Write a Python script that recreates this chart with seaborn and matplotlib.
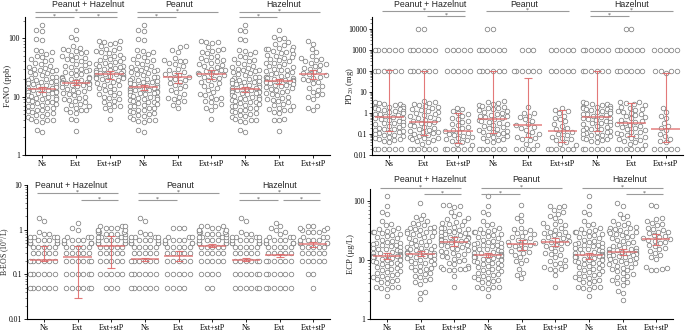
import numpy as np
import pandas as pd
import matplotlib
matplotlib.use("Agg")
import matplotlib.pyplot as plt
import matplotlib.transforms as mtransforms
from matplotlib.ticker import LogLocator, NullFormatter
import seaborn as sns
import warnings
warnings.filterwarnings("ignore")

sns.set_style("ticks")
plt.rcParams["font.family"] = ["Liberation Serif", "DejaVu Serif"]
plt.rcParams["mathtext.fontset"] = "stix"

# ---------------- categories ----------------
tick_names = ["Ns", "Ext", "Ext+stP"] * 3
group_keys = ["PH_Ns", "PH_Ext", "PH_stP", "PN_Ns", "PN_Ext", "PN_stP", "HZ_Ns", "HZ_Ext", "HZ_stP"]
allergens = ["Peanut + Hazelnut", "Peanut", "Hazelnut"]

# ---------------- FeNO (ppb) ----------------
feno_ns = [170, 140, 135, 97, 94, 62, 60, 57, 54, 50, 47, 44, 42, 40, 38, 36, 34, 32, 31, 30, 29, 28, 27, 26,
           25, 24, 23, 22, 21.5, 21, 20, 19.5, 19, 18.5, 18, 17.5, 17, 16.5, 16, 15.5, 15, 14.6, 14.2, 13.8,
           13.5, 13.2, 13, 12.8, 12.5, 12.2, 12, 11.7, 11.4, 11, 10.7, 10.4, 10, 9.8, 9.5, 9.2, 9, 8.7, 8.4,
           8.2, 8, 7.7, 7.4, 7.2, 7, 6.8, 6.5, 6.3, 6, 5.8, 5.6, 5.4, 5.2, 5, 4.8, 4.6, 4.4, 4.2, 4, 3.9, 3.8,
           3.7, 2.7, 2.5]
feno_ph_ext = [140, 105, 95, 72, 68, 65, 62, 60, 57, 55, 52, 50, 48, 46, 44, 42, 40, 38, 36, 35, 33, 32, 30,
               29, 28, 27, 26, 25, 24, 23, 22, 21.5, 21, 20.5, 20, 19.5, 19, 18.5, 18, 17.5, 17.2, 17, 16.8,
               16.5, 16, 15.5, 15, 14.5, 14, 13.5, 13, 12.5, 12, 11.5, 11, 10.5, 10, 9.6, 9.2, 8.8, 8.4, 8,
               7.6, 7.2, 6.8, 6.5, 6.2, 6, 5.8, 5.5, 5.2, 4.2, 3.9, 2.6]
feno_ph_stp = [90, 88, 86, 84, 80, 72, 68, 65, 62, 60, 57, 55, 52, 50, 48, 46, 44, 42, 40, 39, 38, 36, 35, 34,
               33, 32, 31, 30, 29, 28, 27, 26, 25.5, 25, 24.5, 24, 23.5, 23, 22.5, 22, 21.5, 21, 20.5, 20,
               19.5, 19, 18, 17, 16, 15.5, 15, 14, 13.5, 13, 12, 11.5, 11, 10.5, 10, 9.5, 9, 8.5, 8, 7.5, 7,
               6.8, 6.5, 6, 4.1]
feno_pn_ext = [73, 70, 63, 58, 45, 42, 41, 40, 38, 36, 33, 30, 28, 26, 25, 24, 23, 22, 21, 20, 19, 18, 17, 16,
               15, 14, 13, 12, 11, 10, 9.5, 9, 8.5, 8, 7.2, 6.5]
feno_pn_stp = [88, 86, 85, 82, 70, 65, 62, 60, 57, 55, 50, 48, 45, 43, 42, 40, 38, 36, 35, 33, 32, 30, 29, 28,
               27, 26, 25, 24.5, 24, 23, 22, 21, 20, 19, 18, 17, 16, 15, 14, 13, 12, 11, 10.5, 10, 9.5, 9,
               8.5, 8, 7.5, 7, 6.5, 6, 4.1]
feno_hz_ext = [140, 105, 100, 95, 85, 80, 75, 70, 68, 66, 64, 62, 60, 58, 56, 54, 52, 50, 48, 46, 44, 42, 40,
               38, 37, 36, 34, 33, 32, 30, 29, 28, 27, 26, 25, 24, 23, 22.5, 22, 21.5, 21, 20.5, 20, 19.5, 19,
               18.7, 18.5, 18.2, 18, 17.5, 17, 16.5, 16, 15.5, 15, 14.5, 14, 13.5, 13, 12.5, 12, 11.5, 11,
               10.5, 10, 9.6, 9.2, 8.8, 8.4, 8, 7.6, 7.2, 6.8, 6.5, 6.2, 6, 5.8, 5.5, 5.2, 4.2, 4, 3.9, 2.6]
feno_hz_stp = [90, 80, 65, 58, 50, 45, 44, 42, 40, 38, 36, 35, 33, 31, 30, 28, 26, 25, 24, 23, 22, 21, 20, 19,
               18, 17, 15, 14, 13, 12, 11, 10.5, 10, 9, 7, 6.5, 6]
feno_median = [13.3, 17.2, 24.0, 14.4, 21.3, 24.0, 13.4, 18.6, 24.0]
feno_lo = [12.0, 15.5, 20.0, 13.0, 17.0, 20.0, 12.0, 16.5, 20.0]
feno_hi = [14.5, 19.0, 27.0, 15.5, 25.0, 28.0, 14.5, 20.0, 29.0]

# ---------------- PD20 (mg) ----------------
pd_ns = [1000] * 6 + [100] * 6 + [3.2, 3.0, 2.8, 2.6, 2.4, 2.2, 2.0, 1.9, 1.8, 1.7, 1.6, 1.5, 1.4, 1.3, 1.2, 1.1,
                                  1.0, 0.92, 0.85, 0.78, 0.72, 0.66, 0.6, 0.55, 0.5, 0.46, 0.42, 0.38, 0.35,
                                  0.32, 0.29, 0.26, 0.24, 0.22, 0.2, 0.18, 0.165, 0.15, 0.14, 0.13, 0.12, 0.11,
                                  0.1, 0.092, 0.085, 0.078, 0.072, 0.066, 0.06, 0.055, 0.05, 0.045, 0.04] + [0.02] * 6
pd_ph_ext = [10000] * 2 + [1000] * 6 + [100] * 6 + [3.8, 3.4, 3.0, 2.7, 2.4, 2.1, 1.9, 1.7, 1.5, 1.35, 1.2, 1.1,
                                                    1.0, 0.9, 0.8, 0.72, 0.65, 0.58, 0.52, 0.46, 0.42, 0.38,
                                                    0.34, 0.3, 0.27, 0.24, 0.22, 0.2, 0.18, 0.16, 0.145, 0.13,
                                                    0.12, 0.11, 0.1, 0.09, 0.082, 0.075, 0.068, 0.062, 0.056,
                                                    0.05, 0.045, 0.04, 0.035] + [0.02] * 6
pd_ph_stp = [1000] * 5 + [100] * 5 + [1.8, 1.5, 1.2, 1.0, 0.85, 0.7, 0.6, 0.5, 0.42, 0.36, 0.3, 0.26, 0.22, 0.19,
                                      0.16, 0.14, 0.12, 0.11, 0.1, 0.09, 0.08, 0.07, 0.062, 0.055, 0.05, 0.045,
                                      0.04, 0.035, 0.03] + [0.02] * 6
pd_pn_ns = [10000] * 2 + [1000] * 6 + [100] * 6 + [3.8, 3.3, 3.0, 2.7, 2.4, 2.2, 2.0, 1.8, 1.65, 1.5, 1.35, 1.2,
                                                   1.1, 1.0, 0.9, 0.82, 0.75, 0.68, 0.62, 0.56, 0.5, 0.46, 0.42,
                                                   0.38, 0.34, 0.31, 0.28, 0.25, 0.22, 0.2, 0.18, 0.16, 0.145,
                                                   0.13, 0.12, 0.11, 0.1, 0.09, 0.08, 0.072, 0.065, 0.058,
                                                   0.052, 0.046, 0.04] + [0.02] * 6
pd_pn_ext = [1000] * 3 + [100] * 6 + [2.0, 1.0, 0.95, 0.75, 0.62, 0.5, 0.4, 0.3, 0.26, 0.22, 0.2, 0.16, 0.13, 0.1,
                                      0.09, 0.075, 0.065, 0.055, 0.05, 0.035, 0.03] + [0.02] * 4
pd_pn_stp = [1000] * 5 + [100] * 5 + [1.8, 1.4, 1.2, 1.0, 0.75, 0.6, 0.5, 0.4, 0.3, 0.25, 0.2, 0.17, 0.14, 0.12,
                                      0.1, 0.09, 0.075, 0.065, 0.055, 0.05, 0.042, 0.035, 0.03] + [0.02] * 6
pd_hz_ext = [10000] * 2 + [1000] * 6 + [100] * 6 + [3.5, 3.2, 2.9, 2.6, 2.3, 2.0, 1.8, 1.6, 1.45, 1.3, 1.15, 1.0,
                                                    0.9, 0.8, 0.7, 0.62, 0.55, 0.48, 0.42, 0.37, 0.33, 0.3,
                                                    0.27, 0.24, 0.21, 0.19, 0.17, 0.15, 0.13, 0.12, 0.11, 0.1,
                                                    0.09, 0.08, 0.072, 0.064, 0.057, 0.05, 0.045, 0.04, 0.035,
                                                    0.03] + [0.02] * 6
pd_hz_stp = [1000] * 5 + [100] * 4 + [80] + [1.8, 1.1, 0.7, 0.6, 0.35, 0.25, 0.2, 0.15, 0.1, 0.08, 0.06, 0.045,
                                             0.04] + [0.02] * 5
pd_median = [0.62, 0.36, 0.14, 0.52, 0.26, 0.14, 0.62, 0.32, 0.167]
pd_lo = [0.14, 0.09, 0.037, 0.107, 0.072, 0.04, 0.14, 0.08, 0.04]
pd_hi = [110, 105, 0.98, 105, 48, 1.35, 105, 2.9, 78]

# ---------------- B-EOS (10^9/L) ----------------
beos_ns = [0.05] * 6 + [0.1] * 6 + [0.2] * 6 + [0.3] * 5 + [0.4] * 5 + [0.5] * 5 + [0.6] * 5 + [0.7] * 4 + \
          [0.8] * 2 + [0.9] + [1.6, 1.8]
beos_ph_ext = [0.05] * 6 + [0.1] * 6 + [0.2] * 6 + [0.3] * 5 + [0.4] * 5 + [0.5] * 5 + [0.6] * 4 + [0.7] * 3 + \
              [1.0, 1.1, 1.4]
beos_ph_stp = [0.05] * 3 + [0.1] * 5 + [0.2] * 5 + [0.3] * 5 + [0.4] * 5 + [0.5] * 5 + [0.6] * 5 + [0.7] * 4 + \
              [0.8] * 4 + [0.9] * 3 + [1.0] * 3 + [1.1] * 3 + [1.2] * 3
beos_pn_ext = [0.05] * 4 + [0.1] * 5 + [0.2] * 5 + [0.3] * 5 + [0.4] * 5 + [0.5] * 4 + [0.6] * 4 + [0.7] * 3 + \
              [1.1] * 3
beos_pn_stp = [0.05] * 2 + [0.1] * 4 + [0.2] * 5 + [0.3] * 5 + [0.4] * 5 + [0.5] * 5 + [0.6] * 5 + [0.7] * 4 + \
              [0.8] * 4 + [0.9] * 3 + [1.0] * 3 + [1.1] * 2 + [1.2] * 3
beos_hz_ext = [0.05] * 6 + [0.1] * 6 + [0.2] * 6 + [0.3] * 5 + [0.4] * 5 + [0.5] * 5 + [0.6] * 4 + [0.7] * 3 + \
              [0.8, 0.9, 1.0, 1.1, 1.2, 1.4]
beos_hz_stp = [0.05] + [0.1] * 2 + [0.2] * 5 + [0.3] * 5 + [0.4] * 5 + [0.5] * 4 + [0.6] * 4 + [0.7] * 3 + \
              [0.9] * 3 + [1.0] * 2 + [1.1] * 2 + [1.2] * 2
beos_median = [0.21, 0.246, 0.44, 0.22, 0.263, 0.44, 0.21, 0.268, 0.47]
beos_lo = [0.2, 0.03, 0.142, 0.2, 0.2, 0.4, 0.2, 0.25, 0.4]
beos_hi = [0.42, 0.44, 0.73, 0.23, 0.34, 0.47, 0.23, 0.28, 0.52]

# ---------------- ECP (ug/L) ----------------
ecp_ns = [120, 80, 65, 60, 45, 40, 38, 35, 33, 32, 31, 30, 29, 28, 27, 26, 25, 24, 23, 22, 21, 20, 19.5, 19,
          18.5, 18, 17.5, 17, 16.5, 16, 15.5, 15, 14.5, 14, 13.5, 13, 12.8, 12.5, 12.2, 12, 11.8, 11.6, 11.4,
          11.2, 11, 10.8, 10.5, 10.2, 10, 9.8, 9.5, 9.2, 9, 8.7, 8.4, 8.1, 7.8, 7.5, 7.2, 7, 6.8, 6.5, 6.2, 6,
          5.8, 5.6, 5.4, 5.2, 5, 4.8, 4.6, 4.4, 4.2, 4, 3.5, 3.5, 3.5, 3.4, 3.2, 2.4]
ecp_ph_ext = [90, 58, 52, 48, 45, 42, 40, 38, 36, 35, 34, 33, 32, 31, 30, 29, 28, 27, 26, 25, 24, 23, 22, 21,
              20, 19, 18, 17.5, 17, 16.5, 16, 15.5, 15, 14.5, 14, 13.5, 13.2, 13, 12.8, 12.5, 12.2, 12, 11.7,
              11.4, 11, 10.7, 10.4, 10, 9.7, 9.4, 9, 8.7, 8.4, 8, 7.7, 7.4, 7, 6.7, 6.4, 6, 5.7, 5.4, 5.1, 4.8,
              4.5, 4.2, 3.9, 2.9, 2.7, 2.2]
ecp_ph_stp = [85, 83, 80, 78, 65, 60, 55, 50, 48, 46, 44, 42, 40, 38, 36, 35, 34, 33, 32, 31, 30, 29, 28, 27,
              26, 25, 24.5, 24, 23.5, 23, 22.5, 22, 21.5, 21, 20.5, 20, 19.5, 19, 18.5, 18, 17.5, 17, 16.5, 16,
              15, 14.5, 14, 13.5, 13, 12.5, 12, 11.5, 11, 10.5, 10, 9.5, 9, 8.5, 8, 7.5, 7.2, 7, 7, 6.9, 6.8,
              6.7, 5.3, 3.5]
ecp_pn_ext = [85, 58, 50, 45, 35, 33, 32, 30, 28, 27, 25, 24, 23, 22, 21, 20, 19, 18.5, 18, 17.5, 17, 16, 15,
              14, 13.5, 13, 12, 11, 10, 9.5, 9, 7, 6, 5.5, 4.9]
ecp_pn_stp = [82, 80, 78, 70, 65, 60, 55, 50, 45, 42, 40, 38, 36, 34, 32, 30, 29, 28, 27, 26, 25, 24, 23, 22,
              21, 20.5, 20, 19.5, 19, 18, 17, 16, 15, 14, 13, 12.5, 12, 11, 10, 9.5, 9, 8.5, 8, 7.5, 7, 7, 6.8,
              5.5, 3.5]
ecp_hz_ext = [90, 82, 60, 55, 50, 45, 42, 40, 38, 36, 35, 34, 33, 32, 31, 30, 29, 28, 27, 26, 25, 24, 23, 22,
              21, 20, 19, 18, 17, 16.5, 16, 15.5, 15, 14.5, 14, 13.8, 13.5, 13.2, 13, 12.8, 12.5, 12.2, 12,
              11.7, 11.4, 11, 10.7, 10.4, 10, 9.7, 9.4, 9, 8.7, 8.4, 8, 7.7, 7.4, 7, 6.7, 6.4, 6, 5.7, 5.4,
              5.1, 4.8, 4.5, 4.2, 4, 3.8, 3, 2.7, 2.1]
ecp_hz_stp = [85, 80, 50, 48, 45, 42, 40, 38, 35, 33, 32, 30, 29, 28, 26, 25, 24, 23, 22.5, 22, 21, 20, 19, 18,
              17, 16, 15, 14, 13, 12, 11, 10.5, 7.5, 7.2, 7, 6.8, 6.6]
ecp_median = [11.8, 12.7, 20.2, 12.1, 18.3, 20.0, 11.9, 13.4, 22.3]
ecp_lo = [10.5, 11.5, 17.0, 11.0, 14.5, 17.0, 10.5, 12.0, 18.0]
ecp_hi = [13.0, 14.0, 24.0, 13.0, 22.0, 23.5, 13.0, 15.0, 27.5]

# ---------------- significance brackets (start group, end group, level) ----------------
feno_brackets = [(0, 2, 1), (0, 1, 0), (1, 2, 0), (3, 5, 1), (3, 4, 0), (6, 8, 1), (6, 7, 0)]
pd_brackets = [(0, 2, 1), (1, 2, 0), (3, 5, 1), (6, 8, 1), (6, 7, 0)]
beos_brackets = [(0, 2, 1), (1, 2, 0), (3, 5, 1), (3, 4, 0), (6, 8, 1), (6, 7, 0), (7, 8, 0)]
ecp_brackets = [(0, 2, 1), (1, 2, 0), (3, 5, 1), (3, 4, 0), (6, 8, 1), (7, 8, 0)]

# ---------------- figure ----------------
W, H = 685, 333
fig = plt.figure(figsize=(W / 100, H / 100), dpi=100)
RED = "#e06a6a"
GREY_LINE = "#9a9a9a"


def px_axes(left, top, right, bottom):
    return fig.add_axes([left / W, 1 - bottom / H, (right - left) / W, (bottom - top) / H])


panels = [
    dict(rect=(25, 17, 330, 155),
         groups=[feno_ns, feno_ph_ext, feno_ph_stp, feno_ns, feno_pn_ext, feno_pn_stp, feno_ns, feno_hz_ext, feno_hz_stp],
         med=feno_median, lo=feno_lo, hi=feno_hi, ylim=(1, 230), yticks=[1, 10, 100], ylabels=["1", "10", "100"],
         ylab="FeNO (ppb)", ylab_fs=6.2, brackets=feno_brackets, br_y=(1.0, 1.036), title_y=1.09,
         title_dx=(0.35, 0.06, 0.12), ylab_x=-0.043),
    dict(rect=(372, 17, 683, 155),
         groups=[pd_ns, pd_ph_ext, pd_ph_stp, pd_pn_ns, pd_pn_ext, pd_pn_stp, pd_ns, pd_hz_ext, pd_hz_stp],
         med=pd_median, lo=pd_lo, hi=pd_hi, ylim=(0.01, 37000),
         yticks=[0.01, 0.1, 1, 10, 100, 1000, 10000],
         ylabels=["0.01", "0.1", "1", "10", "100", "1000", "10000"],
         ylab="PD$_{20}$ (mg)", ylab_fs=6.2, brackets=pd_brackets, br_y=(1.007, 1.043), title_y=1.094,
         title_dx=(0.17, -0.1, 0.0), ylab_x=-0.05),
    dict(rect=(27, 185, 330, 319),
         groups=[beos_ns, beos_ph_ext, beos_ph_stp, beos_ns, beos_pn_ext, beos_pn_stp, beos_ns, beos_hz_ext, beos_hz_stp],
         med=beos_median, lo=beos_lo, hi=beos_hi, ylim=(0.01, 10), yticks=[0.01, 0.1, 1, 10],
         ylabels=["0.01", "0.1", "1", "10"],
         ylab="B-EOS (10$^{9}$/L)", ylab_fs=5.6, brackets=beos_brackets, br_y=(0.89, 0.942), title_y=1.0,
         title_dx=(-0.18, 0.06, 0.0), ylab_x=-0.05),
    dict(rect=(370, 189, 673, 319),
         groups=[ecp_ns, ecp_ph_ext, ecp_ph_stp, ecp_ns, ecp_pn_ext, ecp_pn_stp, ecp_ns, ecp_hz_ext, ecp_hz_stp],
         med=ecp_median, lo=ecp_lo, hi=ecp_hi, ylim=(1, 157), yticks=[1, 10, 100], ylabels=["1", "10", "100"],
         ylab="ECP (\u03bcg/L)", ylab_fs=6.2, brackets=ecp_brackets, br_y=(0.963, 1.007), title_y=1.07,
         title_dx=(0.3, 0.15, 0.2), ylab_x=-0.05),
]

pos = np.arange(len(group_keys))

for p in panels:
    ax = px_axes(*p["rect"])
    ax.set_yscale("log")
    ax.set_ylim(*p["ylim"])
    ax.set_xlim(-0.5, len(group_keys) - 0.5)

    df = pd.DataFrame({
        "grp": np.repeat(group_keys, [len(g) for g in p["groups"]]),
        "val": np.concatenate([np.asarray(g, float) for g in p["groups"]]),
    })
    sns.swarmplot(data=df, x="grp", y="val", order=group_keys, ax=ax, size=3.3,
                  color="white", edgecolor="#808080", linewidth=0.55, zorder=2, warn_thresh=1)
    ax.set_ylim(*p["ylim"])
    ax.set_xlim(-0.5, len(group_keys) - 0.5)

    med = np.asarray(p["med"])
    lo = np.asarray(p["lo"])
    hi = np.asarray(p["hi"])
    ax.errorbar(pos, med, yerr=[med - lo, hi - med], fmt="none", ecolor=RED, elinewidth=0.8,
                capsize=3.2, capthick=0.8, zorder=5, alpha=0.9)
    ax.hlines(med, pos - 0.42, pos + 0.42, colors=RED, lw=1.1, zorder=5, alpha=0.85)

    ax.set_xticks(pos)
    ax.set_xticklabels(tick_names, fontsize=5.8)
    ax.set_yticks(p["yticks"])
    ax.set_yticklabels(p["ylabels"], fontsize=5.5)
    ax.yaxis.set_minor_locator(LogLocator(base=10, subs=np.arange(2, 10), numticks=20))
    ax.yaxis.set_minor_formatter(NullFormatter())
    ax.tick_params(axis="both", which="major", length=2.5, width=0.6, pad=1.2, colors="black")
    ax.tick_params(axis="y", which="minor", length=1.3, width=0.4)
    ax.set_xlabel("")
    ax.set_ylabel(p["ylab"], fontsize=p["ylab_fs"])
    ax.yaxis.set_label_coords(p["ylab_x"], 0.5)
    sns.despine(ax=ax)
    for s in ("left", "bottom"):
        ax.spines[s].set_linewidth(0.8)
        ax.spines[s].set_color("black")

    trans = mtransforms.blended_transform_factory(ax.transData, ax.transAxes)
    for k, name in enumerate(allergens):
        ax.text(3 * k + 1 + p["title_dx"][k], p["title_y"], name, transform=trans, ha="center", va="center",
                fontsize=6.3, family=["Liberation Sans", "DejaVu Sans"], clip_on=False)

    for (i, j, lev) in p["brackets"]:
        x0 = i - 0.2 if i % 3 == 0 else i + 0.1
        x1 = j + 0.2 if j % 3 == 2 else j - 0.05
        y = p["br_y"][lev]
        ax.plot([x0, x1], [y, y], transform=trans, color=GREY_LINE, lw=0.8, clip_on=False, solid_capstyle="butt")
        ax.text((x0 + x1) / 2, y + 0.004, "*", transform=trans, ha="center", va="center", fontsize=4.2,
                color="#444444", clip_on=False)

fig.savefig("out.png", dpi=100)
